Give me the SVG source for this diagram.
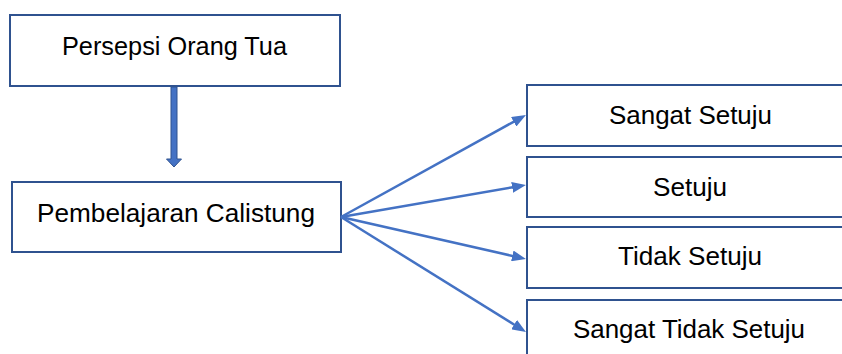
<svg xmlns="http://www.w3.org/2000/svg" width="842" height="354" viewBox="0 0 842 354">
  <style>
    .box { fill: #ffffff; stroke: #2F528F; stroke-width: 2; }
    .lbl { font-family: "Liberation Sans", Arial, sans-serif; font-size: 25px; fill: #000000; text-anchor: middle; }
    .con { stroke: #4472C4; stroke-width: 2.5; fill: none; marker-end: url(#ah); }
  </style>
  <defs>
    <marker id="ah" markerUnits="userSpaceOnUse" viewBox="0 0 14 11" markerWidth="14" markerHeight="11" refX="4" refY="5.5" orient="auto">
      <path d="M0,0 L14,5.5 L0,11 z" fill="#4472C4"/>
    </marker>
  </defs>

  <g id="node-persepsi">
    <rect class="box" x="10" y="15" width="330" height="71"/>
    <text class="lbl" x="174.5" y="55" textLength="225" lengthAdjust="spacingAndGlyphs">Persepsi Orang Tua</text>
  </g>

  <g id="node-pembelajaran">
    <rect class="box" x="12" y="182" width="329" height="70"/>
    <text class="lbl" x="176" y="222" textLength="278" lengthAdjust="spacingAndGlyphs">Pembelajaran Calistung</text>
  </g>

  <g id="node-sangat-setuju">
    <rect class="box" x="527" y="85" width="330" height="61"/>
    <text class="lbl" x="690.5" y="124" textLength="163" lengthAdjust="spacingAndGlyphs">Sangat Setuju</text>
  </g>

  <g id="node-setuju">
    <rect class="box" x="527" y="157" width="330" height="60"/>
    <text class="lbl" x="690" y="196" textLength="74" lengthAdjust="spacingAndGlyphs">Setuju</text>
  </g>

  <g id="node-tidak-setuju">
    <rect class="box" x="527" y="227" width="330" height="61"/>
    <text class="lbl" x="690" y="265" textLength="144" lengthAdjust="spacingAndGlyphs">Tidak Setuju</text>
  </g>

  <g id="node-sangat-tidak-setuju">
    <rect class="box" x="527" y="300" width="330" height="65"/>
    <text class="lbl" x="689" y="338" textLength="232" lengthAdjust="spacingAndGlyphs">Sangat Tidak Setuju</text>
  </g>

  <g id="connectors">
    <polygon points="171,87 177,87 177,159 181.5,159 174,167 166.5,159 171,159" fill="#4472C4" stroke="#2F528F" stroke-width="1"/>
    <line class="con" x1="341" y1="217" x2="517.2" y2="119.8"/>
    <line class="con" x1="341" y1="217" x2="516.1" y2="186.7"/>
    <line class="con" x1="341" y1="217" x2="516.2" y2="256.8"/>
    <line class="con" x1="341" y1="217" x2="517.5" y2="326.7"/>
  </g>
</svg>
